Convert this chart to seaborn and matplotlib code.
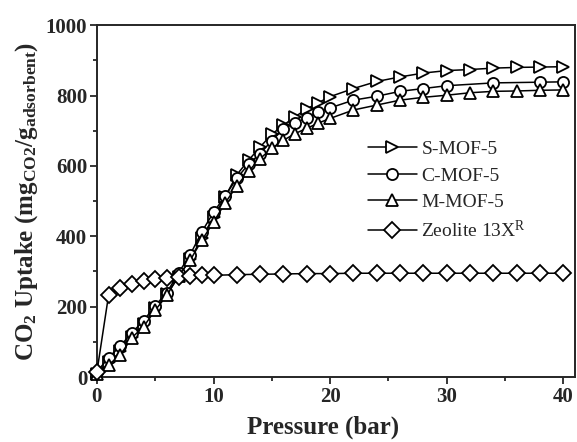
import numpy as np
import pandas as pd
import matplotlib
matplotlib.use('Agg')
import matplotlib.pyplot as plt
import seaborn as sns

# Data
pressure = [0, 1, 2, 3, 4, 5, 6, 7, 8, 9, 10, 11, 12, 13, 14, 15, 16, 17, 18, 19, 20,
            22, 24, 26, 28, 30, 32, 34, 36, 38, 40]

s_mof5 = [10, 42, 75, 115, 150, 195, 235, 285, 335, 395, 455, 512, 575, 616, 654, 690,
          716, 740, 762, 780, 797, 820, 840, 853, 864, 871, 874, 878, 880, 881, 882]

c_pressure = [0, 1, 2, 3, 4, 5, 6, 7, 8, 9, 10, 11, 12, 13, 14, 15, 16, 17, 18, 19, 20,
              22, 24, 26, 28, 30, 34, 38, 40]
c_mof5 = [15, 55, 88, 126, 160, 203, 240, 296, 348, 413, 468, 515, 565, 605, 635, 672,
          705, 722, 737, 752, 765, 787, 798, 812, 820, 828, 836, 838, 839]

m_mof5 = [8, 35, 62, 112, 143, 190, 232, 288, 332, 389, 440, 495, 543, 585, 621, 650,
          673, 692, 707, 722, 735, 759, 773, 787, 795, 801, 808, 812, 813, 815, 816]

z_pressure = [0, 1, 2, 3, 4, 5, 6, 7, 8, 9, 10, 12, 14, 16, 18, 20,
              22, 24, 26, 28, 30, 32, 34, 36, 38, 40]
zeolite = [15, 233, 252, 265, 273, 278, 281, 285, 288, 289, 289, 291, 292, 293, 294, 294,
           295, 295, 295, 295, 295, 295, 295, 295, 295, 295]

series = [
    ('S-MOF-5', pressure, s_mof5, '>', 9),
    ('C-MOF-5', c_pressure, c_mof5, 'o', 8),
    ('M-MOF-5', pressure, m_mof5, '^', 9),
    ('Zeolite 13X$^{\\mathrm{R}}$', z_pressure, zeolite, 'D', 8),
]

sns.set_style('ticks')
plt.rcParams['font.family'] = ['Liberation Serif', 'DejaVu Serif']
plt.rcParams['mathtext.fontset'] = 'custom'
plt.rcParams['mathtext.rm'] = 'Liberation Serif'
plt.rcParams['mathtext.bf'] = 'Liberation Serif:bold'
plt.rcParams['mathtext.it'] = 'Liberation Serif:italic'

fig = plt.figure(figsize=(5.77, 4.42), dpi=100)
ax = fig.add_axes([0.168, 0.147, 0.8285, 0.796])

for name, x, y, mk, ms in series:
    df = pd.DataFrame({'Pressure': x, 'Uptake': y})
    sns.lineplot(data=df, x='Pressure', y='Uptake', ax=ax, sort=False,
                 color='black', linewidth=1.1, marker=mk, markersize=ms,
                 markerfacecolor='white', markeredgecolor='black',
                 markeredgewidth=1.3, label=name, clip_on=False, zorder=3)

ax.set_xlim(0, 41)
ax.set_ylim(0, 1000)
ax.set_xticks([0, 10, 20, 30, 40])
ax.set_xticks([5, 15, 25, 35], minor=True)
ax.set_yticks([0, 200, 400, 600, 800, 1000])
ax.set_yticks([100, 300, 500, 700, 900], minor=True)
ax.tick_params(which='both', direction='out', width=1.3, top=False, right=False)
ax.tick_params(which='major', length=5, labelsize=15, pad=2)
ax.tick_params(which='minor', length=3)
for lbl in ax.get_xticklabels() + ax.get_yticklabels():
    lbl.set_fontweight('bold')
for sp in ax.spines.values():
    sp.set_linewidth(1.4)
    sp.set_visible(True)

ax.set_xlabel('Pressure (bar)', fontsize=18, fontweight='bold')
ax.xaxis.set_label_coords(0.473, -0.11)
ax.set_ylabel('CO$_\\mathbf{2}$ Uptake (mg$_{\\mathbf{CO2}}$/g$_{\\mathbf{adsorbent}}$)',
              fontsize=18, fontweight='bold', labelpad=4)

leg = ax.legend(loc='upper left', bbox_to_anchor=(0.567, 0.672), frameon=False,
                fontsize=14, handlelength=2.5, handletextpad=0.25,
                labelspacing=0.45, borderpad=0, borderaxespad=0)

plt.savefig('out.png', dpi=100)
